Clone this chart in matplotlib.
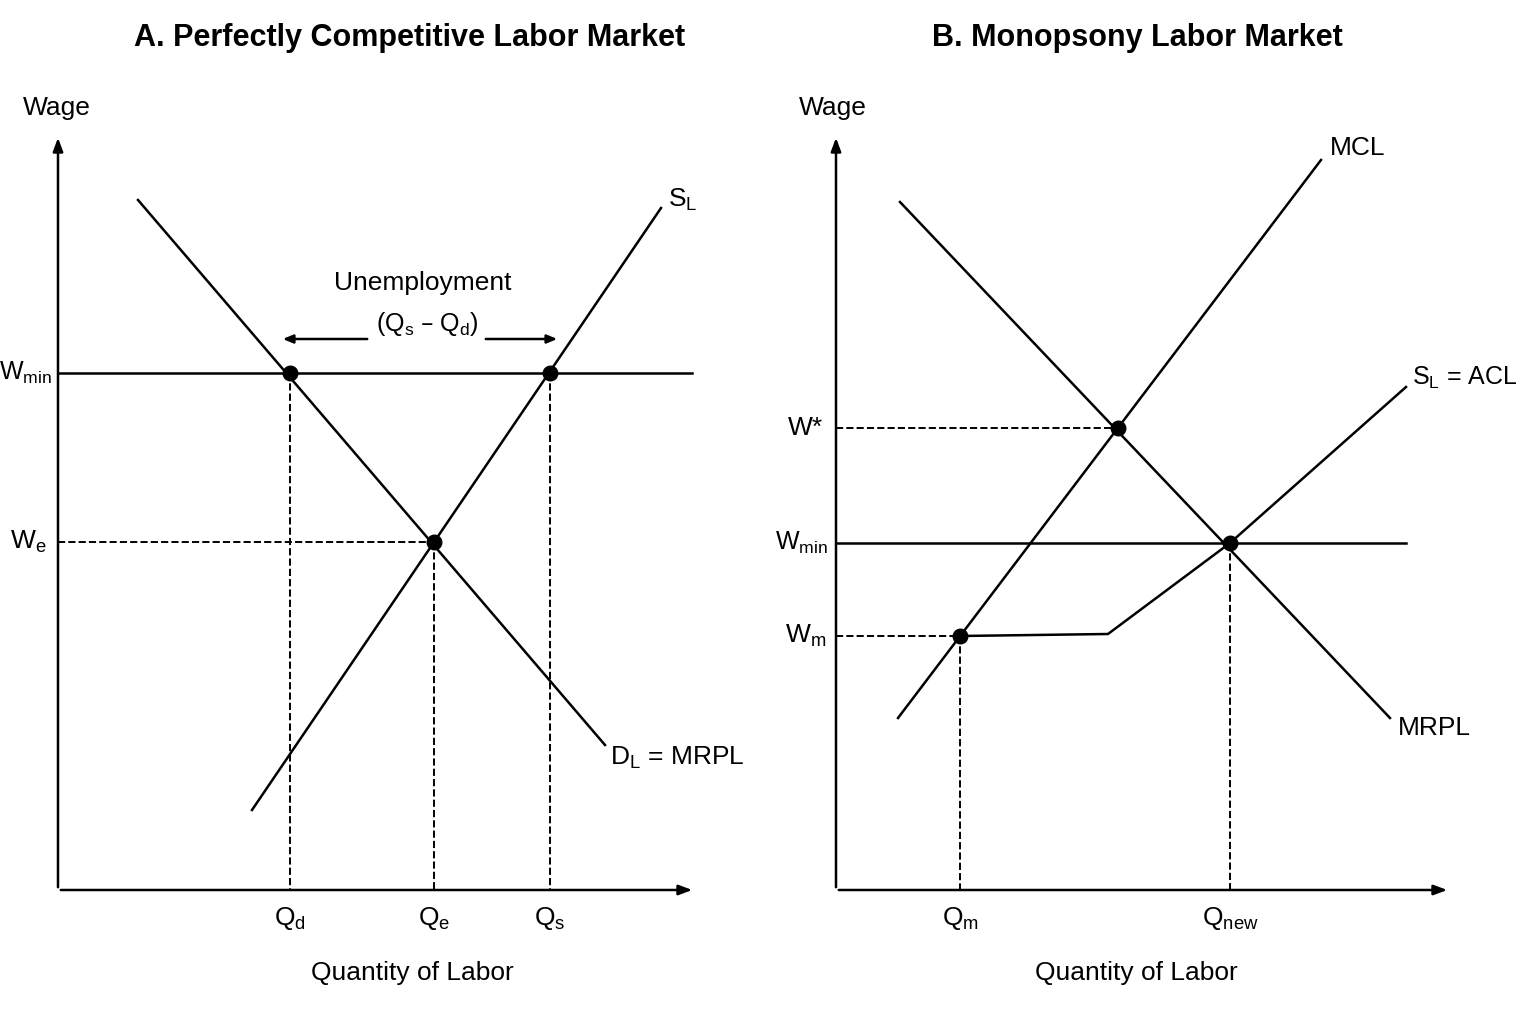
import matplotlib.pyplot as plt

plt.rcParams['font.family'] = ['Liberation Sans Narrow', 'Liberation Sans', 'DejaVu Sans']

# all coordinates in picture pixels (y grows downward)
# panel A
a_axis_x, a_axis_y = 58, 890
a_axis_top, a_axis_right = 135, 695
a_demand = ([138, 605], [200, 745])
a_supply = ([252, 661], [810, 208])
a_wmin_y, a_wmin_end = 373, 692
a_pts_x = [290, 550, 434]
a_pts_y = [373, 373, 542]
a_we_y = 542
a_q_x = [290, 434, 550]
a_q_labels = ['Q$_\\mathregular{d}$', 'Q$_\\mathregular{e}$', 'Q$_\\mathregular{s}$']

# panel B
b_axis_x, b_axis_y = 836, 890
b_axis_top, b_axis_right = 135, 1450
b_mcl = ([898, 1321], [718, 160])
b_mrpl = ([900, 1390], [202, 718])
b_acl = ([960, 1108, 1230, 1406], [636, 634, 543, 387])
b_wmin_y, b_wmin_end = 543, 1406
b_pts_x = [1118, 1230, 960]
b_pts_y = [428, 543, 636]
b_q_x = [960, 1230]
b_q_labels = ['Q$_\\mathregular{m}$', 'Q$_\\mathregular{new}$']

fig = plt.figure(figsize=(15.36, 10.24), dpi=100)
ax = fig.add_axes([0, 0, 1, 1])
ax.set_xlim(0, 1536)
ax.set_ylim(1024, 0)
ax.axis('off')

lw = 1.8
fs = 19

def axes_arrows(x0, y0, top, right):
    ax.annotate('', xy=(x0, top), xytext=(x0, y0),
                arrowprops=dict(arrowstyle='-|>,head_length=0.8,head_width=0.3', color='black', lw=lw))
    ax.annotate('', xy=(right, y0), xytext=(x0, y0),
                arrowprops=dict(arrowstyle='-|>,head_length=0.8,head_width=0.3', color='black', lw=lw))

# ---- panel A
axes_arrows(a_axis_x, a_axis_y, a_axis_top, a_axis_right)
ax.plot(*a_demand, color='black', lw=lw)
ax.plot(*a_supply, color='black', lw=lw)
ax.plot([a_axis_x, a_wmin_end], [a_wmin_y, a_wmin_y], color='black', lw=lw)
ax.plot([a_axis_x, a_pts_x[2]], [a_we_y, a_we_y], '--', color='black', lw=1.4)
for qx, py in zip(a_q_x, [373, 542, 373]):
    ax.plot([qx, qx], [py, a_axis_y], '--', color='black', lw=1.4)
ax.scatter(a_pts_x, a_pts_y, s=110, color='black', zorder=5)
ax.annotate('', xy=(280, 339), xytext=(370, 339),
            arrowprops=dict(arrowstyle='-|>,head_length=0.6,head_width=0.25', color='black', lw=lw))
ax.annotate('', xy=(560, 339), xytext=(483, 339),
            arrowprops=dict(arrowstyle='-|>,head_length=0.6,head_width=0.25', color='black', lw=lw))

ax.text(410, 38, 'A. Perfectly Competitive Labor Market', fontsize=22, weight='bold', ha='center', va='center')
ax.text(57, 108, 'Wage', fontsize=fs, ha='center', va='center')
ax.text(668, 200, 'S$_\\mathregular{L}$', fontsize=fs, ha='left', va='center')
ax.text(610, 758, 'D$_\\mathregular{L}$ = MRPL', fontsize=fs, ha='left', va='center')
ax.text(52, 373, 'W$_\\mathregular{min}$', fontsize=fs - 1, ha='right', va='center')
ax.text(47, 542, 'W$_\\mathregular{e}$', fontsize=fs, ha='right', va='center')
ax.text(423, 283, 'Unemployment', fontsize=fs, ha='center', va='center')
ax.text(427, 324, '(Q$_\\mathregular{s}$ \u2013 Q$_\\mathregular{d}$)', fontsize=fs - 1, ha='center', va='center')
for qx, lab in zip(a_q_x, a_q_labels):
    ax.text(qx, 918, lab, fontsize=fs, ha='center', va='center')
ax.text(412, 973, 'Quantity of Labor', fontsize=fs, ha='center', va='center')

# ---- panel B
axes_arrows(b_axis_x, b_axis_y, b_axis_top, b_axis_right)
ax.plot(*b_mcl, color='black', lw=lw)
ax.plot(*b_mrpl, color='black', lw=lw)
ax.plot(*b_acl, color='black', lw=lw)
ax.plot([b_axis_x, b_wmin_end], [b_wmin_y, b_wmin_y], color='black', lw=lw)
ax.plot([b_axis_x, b_pts_x[0]], [b_pts_y[0], b_pts_y[0]], '--', color='black', lw=1.4)
ax.plot([b_axis_x, b_pts_x[2]], [b_pts_y[2], b_pts_y[2]], '--', color='black', lw=1.4)
for qx, py in zip(b_q_x, [636, 543]):
    ax.plot([qx, qx], [py, b_axis_y], '--', color='black', lw=1.4)
ax.scatter(b_pts_x, b_pts_y, s=110, color='black', zorder=5)

ax.text(1137, 38, 'B. Monopsony Labor Market', fontsize=22, weight='bold', ha='center', va='center')
ax.text(833, 108, 'Wage', fontsize=fs, ha='center', va='center')
ax.text(1330, 148, 'MCL', fontsize=fs, ha='left', va='center')
ax.text(1412, 378, 'S$_\\mathregular{L}$ = ACL', fontsize=fs - 1, ha='left', va='center')
ax.text(1398, 728, 'MRPL', fontsize=fs, ha='left', va='center')
ax.text(823, 428, 'W*', fontsize=fs, ha='right', va='center')
ax.text(828, 543, 'W$_\\mathregular{min}$', fontsize=fs - 1, ha='right', va='center')
ax.text(826, 636, 'W$_\\mathregular{m}$', fontsize=fs, ha='right', va='center')
for qx, lab in zip(b_q_x, b_q_labels):
    ax.text(qx, 918, lab, fontsize=fs, ha='center', va='center')
ax.text(1136, 973, 'Quantity of Labor', fontsize=fs, ha='center', va='center')

fig.savefig('out.png', dpi=100)
